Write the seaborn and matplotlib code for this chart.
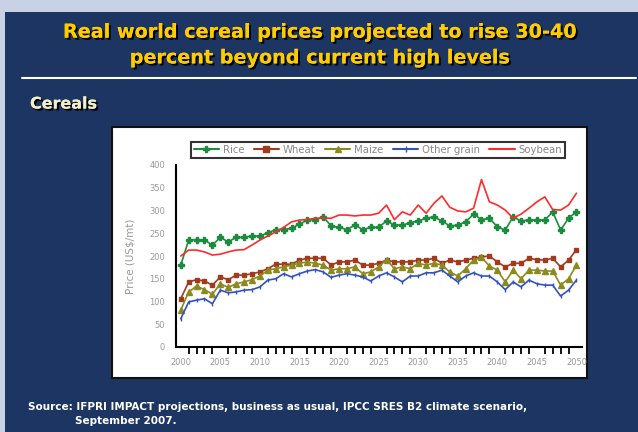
import numpy as np
import pandas as pd
import matplotlib
matplotlib.use("Agg")
import matplotlib.pyplot as plt
import matplotlib.patches as mpatches
import matplotlib.patheffects as pe
import seaborn as sns

years = list(range(2000, 2051))
rice = [180, 235, 236, 235, 224, 241, 231, 241, 241, 244, 244, 251, 258, 258, 261, 270, 279, 280, 286, 266,
        263, 258, 268, 258, 263, 263, 277, 268, 268, 273, 277, 283, 286, 277, 266, 268, 275, 292, 280, 283,
        264, 257, 286, 277, 279, 279, 279, 297, 257, 283, 297]
wheat = [106, 143, 148, 145, 136, 154, 148, 158, 158, 161, 165, 172, 182, 182, 182, 191, 195, 195, 195, 180,
         187, 187, 191, 180, 180, 184, 191, 187, 187, 187, 191, 191, 195, 184, 191, 187, 191, 195, 198, 200,
         187, 176, 184, 184, 195, 192, 191, 195, 176, 191, 214]
maize = [81, 121, 134, 126, 116, 139, 131, 139, 143, 148, 156, 169, 172, 176, 180, 184, 187, 184, 180, 169,
         172, 172, 176, 161, 165, 176, 192, 172, 176, 172, 184, 180, 184, 180, 165, 156, 172, 191, 197, 178,
         169, 143, 169, 150, 169, 169, 167, 167, 136, 150, 180]
other_grain = [62, 99, 103, 106, 95, 125, 119, 121, 125, 126, 132, 147, 150, 161, 154, 161, 167, 170, 165, 153,
               158, 161, 158, 154, 145, 156, 163, 154, 143, 156, 156, 163, 163, 169, 156, 143, 156, 163, 156, 156,
               143, 126, 143, 132, 147, 139, 136, 136, 112, 125, 147]
soybean = [200, 213, 213, 209, 202, 204, 209, 213, 214, 224, 235, 244, 253, 263, 275, 279, 280, 283, 283, 283,
           290, 290, 288, 290, 290, 294, 312, 280, 297, 290, 312, 294, 316, 332, 307, 299, 297, 305, 368, 319,
           312, 301, 283, 292, 305, 319, 330, 302, 301, 312, 338]

series_names = ["Rice", "Wheat", "Maize", "Other grain", "Soybean"]
y_ticks = [0, 50, 100, 150, 200, 250, 300, 350, 400]
x_labels = [2000, 2005, 2010, 2015, 2020, 2025, 2030, 2035, 2040, 2045, 2050]

title_text = "Real world cereal prices projected to rise 30-40\npercent beyond current high levels"
subtitle_text = "Cereals"
ylabel_text = "Price (US$/mt)"
source_line1 = "Source: IFPRI IMPACT projections, business as usual, IPCC SRES B2 climate scenario,"
source_line2 = "September 2007."

df = pd.DataFrame({
    "Year": years * 5,
    "Price": rice + wheat + maize + other_grain + soybean,
    "Crop": sum([[n] * len(years) for n in series_names], []),
})

palette = {"Rice": "#1b8c3e", "Wheat": "#a33a1e", "Maize": "#8c8a1f",
           "Other grain": "#3352c2", "Soybean": "#ff2a2a"}
markers = {"Rice": "P", "Wheat": "s", "Maize": "^", "Other grain": "|", "Soybean": None}
msizes = {"Rice": 4.5, "Wheat": 3.2, "Maize": 3.8, "Other grain": 3.5, "Soybean": 0}

sns.set_theme(style="white")
plt.rcParams["font.family"] = ["DejaVu Sans"]

W, H = 638, 432
fig = plt.figure(figsize=(W / 100, H / 100), dpi=100)
fig.patch.set_facecolor("#c9d1e5")

navy = "#1d3562"
fig.patches.append(mpatches.Rectangle((5 / W, 0), 1, 1 - 12 / H, transform=fig.transFigure,
                                      facecolor=navy, edgecolor="none", zorder=0))
fig.add_artist(plt.Line2D([22 / W, 636 / W], [1 - 78 / H, 1 - 78 / H], transform=fig.transFigure,
                          color="white", lw=1.5))
fig.patches.append(mpatches.Rectangle((112 / W, 1 - 378 / H), (587 - 112) / W, (378 - 127) / H,
                                      transform=fig.transFigure, facecolor="white",
                                      edgecolor="#111111", lw=1.5, zorder=1))

shadow = [pe.withSimplePatchShadow(offset=(1.5, -1.5), shadow_rgbFace="black", alpha=0.9), pe.Normal()]
fig.text(320 / W, 1 - 45 / H, title_text, ha="center", va="center", color="#ffcc00",
         fontsize=13.8, fontweight="bold", linespacing=1.45, path_effects=shadow)
fig.text(30 / W, 1 - 104 / H, subtitle_text, ha="left", va="center", color="#f4f0c4",
         fontsize=11.5, fontweight="bold", path_effects=shadow)
fig.text(28 / W, 1 - 407 / H, source_line1, ha="left", va="center", color="white",
         fontsize=7.5, fontweight="bold")
fig.text(75 / W, 1 - 421 / H, source_line2, ha="left", va="center", color="white",
         fontsize=7.5, fontweight="bold")

ax = fig.add_axes([176 / W, 1 - 347 / H, (582 - 176) / W, (347 - 165) / H])
ax.set_zorder(2)
ax.patch.set_alpha(0)
for n in series_names:
    sub = df[df["Crop"] == n]
    sns.lineplot(data=sub, x="Year", y="Price", color=palette[n], marker=markers[n],
                 markersize=msizes[n], markeredgewidth=1.0, markeredgecolor=palette[n],
                 lw=1.2, ax=ax, legend=False)

ax.set_xlim(1999.4, 2050.7)
ax.set_ylim(0, 400)
ax.set_yticks(y_ticks)
ax.set_xticks(x_labels)
ax.set_xticks(years, minor=True)
ax.set_xticklabels([str(v) for v in x_labels])
ax.tick_params(axis="both", which="major", direction="out", length=5, width=1.3, colors="black",
               labelsize=6, labelcolor="#999999", pad=3)
ax.tick_params(axis="x", which="minor", direction="out", length=5, width=1.3, colors="black", bottom=True)
for s in ["top", "right"]:
    ax.spines[s].set_visible(False)
for s in ["left", "bottom"]:
    ax.spines[s].set_color("black")
    ax.spines[s].set_linewidth(1.5)
ax.set_xlabel("")
ax.set_ylabel(ylabel_text, color="#999999", fontsize=7.5, labelpad=10)

handles = [plt.Line2D([], [], color=palette[n], marker=markers[n], markersize=4, lw=1.5)
           for n in series_names]
leg = fig.legend(handles, series_names, loc="center", bbox_to_anchor=(378 / W, 1 - 150 / H),
                 ncol=5, frameon=True, fontsize=7.3, handlelength=2.5, handletextpad=0.4,
                 columnspacing=0.9, borderpad=0.25, fancybox=False)
leg.get_frame().set_edgecolor("black")
leg.get_frame().set_linewidth(1.5)
for t in leg.get_texts():
    t.set_color("#888888")
leg.set_zorder(3)

fig.savefig("out.png", dpi=100, facecolor=fig.get_facecolor())
